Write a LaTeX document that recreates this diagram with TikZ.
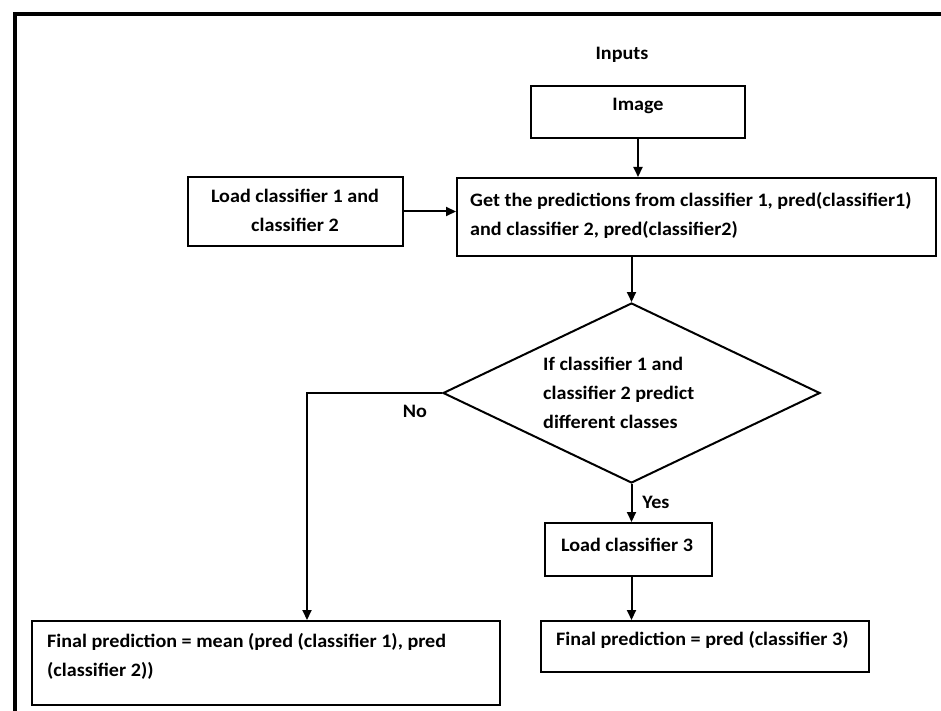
\documentclass[tikz,border=0pt]{standalone}
\usepackage{fontspec}
\setmainfont{Carlito}[FakeStretch=1.06]
\usetikzlibrary{shapes.geometric,arrows.meta}
\newcommand\fs{\fontsize{19}{29}\selectfont\bfseries}
\newcommand\nl{\kern0pt }
\tikzset{
 box/.style={draw, line width=2pt, rectangle, inner sep=0pt},
 txt/.style={font=\fs, inner sep=0pt, align=left},
 arr/.style={-{Triangle[length=10pt,width=9pt]}, line width=2pt},
}
\begin{document}
\begin{tikzpicture}[x=1pt,y=-1pt]
\useasboundingbox (0,0) rectangle (941,711);
\fill[white] (0,0) rectangle (941,711);
\draw[line width=4.5pt] (15,711) -- (15,14) -- (941,14);
\node[txt] (inputs) at (622,55) {Inputs};
\node[box, minimum width=214pt, minimum height=52pt] (img) at (638,112) {};
\node[txt] (imgt) at (638,106) {Image};
\node[box, minimum width=215pt, minimum height=69pt] (load) at (295.5,211.5) {};
\node[txt, align=center] (loadt) at (295,210) {Load classifier 1 and\\classifier 2};
\node[box, minimum width=479pt, minimum height=78pt] (get) at (696.5,217) {};
\node[txt, anchor=west] (gett) at (470,215) {Get the predic\nl tions from classifier 1, pred(classifier1)\\and classifier 2, pred(classifier2)};
\node[draw, diamond, line width=2pt, inner sep=0pt, minimum width=377pt, minimum height=180pt] (dia) at (631.5,393) {};
\node[txt, anchor=west] (diat) at (543,393) {If classifier 1 and\\classifier 2 predict\\different classes};
\node[box, minimum width=167pt, minimum height=53pt] (load3) at (628.5,549.5) {};
\node[txt] (load3t) at (627,545) {Load classifier 3};
\node[box, minimum width=468pt, minimum height=84pt] (finL) at (266,663) {};
\node[txt, anchor=west] (finLt) at (47,656) {Final predic\nl tion = mean (pred (classifier 1), pred\\(classifier 2))};
\node[box, minimum width=328pt, minimum height=51pt] (finR) at (705,646.5) {};
\node[txt, anchor=west] (finRt) at (556,640) {Final predic\nl tion = pred (classifier 3)};
\coordinate (corner) at (307,393);
\draw[arr] (img.south) -- (img.south |- get.north);
\draw[arr] (load.east) -- (load.east -| get.west);
\draw[arr] (dia.north |- get.south) -- (dia.north);
\draw[arr] (dia.west) -- (corner) -- (corner |- finL.north);
\draw[arr] (dia.south) -- (dia.south |- load3.north);
\draw[arr] (dia.south |- load3.south) -- (dia.south |- finR.north);
\node[txt] (no) at (415,411) {No};
\node[txt] (yes) at (656,502) {Yes};
\end{tikzpicture}
\end{document}
